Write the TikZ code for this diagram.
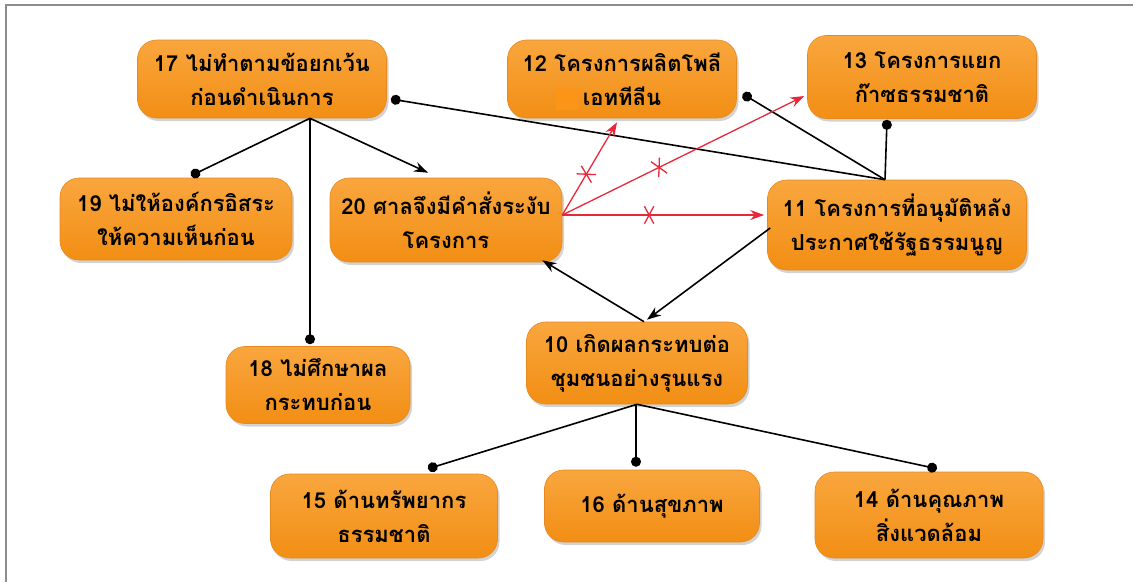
\documentclass[tikz,border=0pt]{standalone}
\usepackage{fontspec}
\newfontfamily\thaifont[Script=Thai]{Loma}
\usetikzlibrary{arrows.meta,shadows,shapes.misc}

\definecolor{boxTop}{HTML}{F9A63E}
\definecolor{boxBottom}{HTML}{F28E14}
\definecolor{boxEdge}{HTML}{E8891F}
\definecolor{patchColour}{HTML}{FC9418}
\definecolor{redArrow}{HTML}{E8283A}
\definecolor{frameColour}{HTML}{8C8C8C}

\tikzset{
  box/.style={rounded corners=19pt, top color=boxTop, bottom color=boxBottom,
    draw=boxEdge, line width=0.6pt, align=center, inner sep=4pt,
    font=\thaifont\bfseries\fontsize{22}{34}\selectfont,
    drop shadow={opacity=0.35, shadow xshift=2pt, shadow yshift=-3pt}},
  dotline/.style={line width=1.6pt, -{Circle[length=10pt]}},
  arrline/.style={line width=1.6pt, -{Stealth[length=14pt,width=10pt]}},
  redline/.style={draw=redArrow, line width=1.3pt, -{Stealth[length=14pt,width=10pt]}},
  crossmark/.style={cross out, draw=redArrow, line width=1.3pt,
    minimum width=8pt, minimum height=16pt, inner sep=0pt}
}

\begin{document}
\begin{tikzpicture}[x=1pt,y=-1pt]
    \useasboundingbox (0,0) rectangle (1133,582);

    % Frame
    \draw[frameColour, line width=2pt] (6,582) -- (6,5) -- (1133,5);

    % Boxes
    \node[box, minimum width=249pt, minimum height=78pt] (n17) at (262,79) {17 ไม่ทำตามข้อยกเว้น\\ก่อนดำเนินการ};
    \node[box, minimum width=229pt, minimum height=78pt] (n12) at (622,79) {12 โครงการผลิตโพลี\\เอททีลีน};
    \node[box, minimum width=229pt, minimum height=83pt] (n13) at (922,77) {13 โครงการแยก\\ก๊าซธรรมชาติ};
    \node[box, minimum width=232pt, minimum height=82pt] (n19) at (176,219) {19 ไม่ให้องค์กรอิสระ\\ให้ความเห็นก่อน};
    \node[box, minimum width=232pt, minimum height=84pt] (n20) at (446,220) {20 ศาลจึงมีคำสั่งระงับ\\โครงการ};
    \node[box, minimum width=259pt, minimum height=90pt] (n11) at (897,225) {11 โครงการที่อนุมัติหลัง\\ประกาศใช้รัฐธรรมนูญ};
    \node[box, minimum width=184pt, minimum height=77pt] (n18) at (318,385) {18 ไม่ศึกษาผล\\กระทบก่อน};
    \node[box, minimum width=221pt, minimum height=82pt] (n10) at (637,363) {10 เกิดผลกระทบต่อ\\ชุมชนอย่างรุนแรง};
    \node[box, minimum width=227pt, minimum height=84pt] (n15) at (384,516) {15 ด้านทรัพยากร\\ธรรมชาติ};
    \node[box, minimum width=215pt, minimum height=72pt] (n16) at (652,506) {16 ด้านสุขภาพ};
    \node[box, minimum width=228pt, minimum height=86pt] (n14) at (929,515) {14 ด้านคุณภาพ\\สิ่งแวดล้อม};

    % small patch in box 12
    \fill[patchColour] (556,88) rectangle (578,110);

    % 17 branches
    \draw[dotline] ([xshift=48pt]n17.south) -- ([xshift=15pt,yshift=2pt]n19.north);
    \draw[dotline] ([xshift=48pt]n17.south) -- ([xshift=-8pt,yshift=2pt]n18.north);
    \draw[arrline] ([xshift=48pt]n17.south) -- ([xshift=-18pt,yshift=5pt]n20.north);

    % into 11
    \draw[dotline] ([xshift=-12pt]n11.north) -- ([xshift=4pt,yshift=-20pt]n17.east);
    \draw[dotline] ([xshift=-12pt]n11.north) -- ([xshift=6pt,yshift=-15pt]n12.east);
    \draw[dotline] ([xshift=-12pt]n11.north) -- ([xshift=-35pt,yshift=-1pt]n13.south);

    % blocked by 20
    \draw[redline] ([yshift=5pt]n20.east) -- ([xshift=-5pt,yshift=-4pt]n12.south)
        node[crossmark, pos=0.44, sloped] {};
    \draw[redline] ([yshift=5pt]n20.east) -- ([xshift=-3pt,yshift=-19pt]n13.west)
        node[crossmark, pos=0.40, sloped] {};
    \draw[redline] ([yshift=5pt]n20.east) -- ([xshift=-3pt,yshift=10pt]n11.west)
        node[crossmark, pos=0.43, sloped] {};

    % 11 -> 10 -> 20
    \draw[arrline] ([xshift=3pt,yshift=-3pt]n11.west) -- ([xshift=10pt,yshift=2pt]n10.north);
    \draw[arrline] ([xshift=7pt]n10.north) -- ([xshift=-20pt,yshift=2pt]n20.south east);

    % 10 branches
    \draw[dotline] (n10.south) -- ([xshift=44pt,yshift=5pt]n15.north);
    \draw[dotline] ([xshift=-1pt]n10.south) -- ([xshift=-16pt,yshift=3pt]n16.north);
    \draw[dotline] (n10.south) -- ([xshift=8pt,yshift=3pt]n14.north);

\end{tikzpicture}
\end{document}
